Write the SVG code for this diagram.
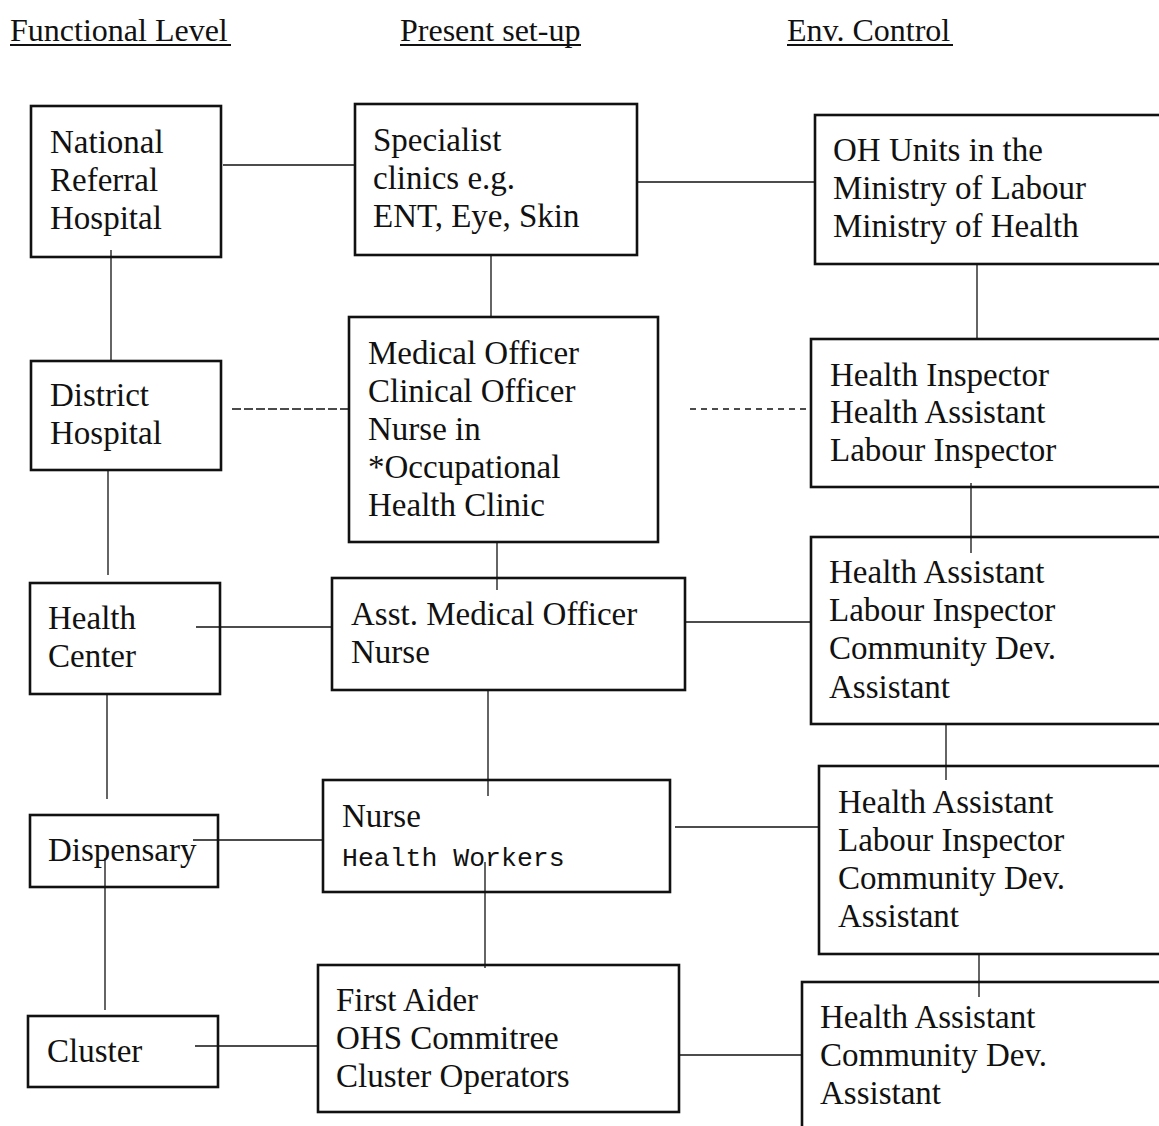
<svg xmlns="http://www.w3.org/2000/svg" width="1159" height="1126" viewBox="0 0 1159 1126">
<style>
.box{fill:none;stroke:#111;stroke-width:2.6}
.t{font-family:"Liberation Serif","Times New Roman",serif;font-size:33px;fill:#111}
.m{font-family:"Liberation Mono","Courier New",monospace;font-size:26.5px;fill:#111}
.h{font-family:"Liberation Serif","Times New Roman",serif;font-size:32px;fill:#111}
.c line{stroke:#111;stroke-width:1.3}
.c line.d1{stroke-dasharray:9 3}
.c line.d2{stroke-dasharray:6 5}
.u{stroke:#111;stroke-width:2}
</style>
<rect width="1159" height="1126" fill="#fff"/>
<g id="headers">
<text class="h" x="10" y="41">Functional Level</text>
<line class="u" x1="10" y1="45" x2="231" y2="45"/>
<text class="h" x="400" y="41">Present set-up</text>
<line class="u" x1="400" y1="45" x2="581" y2="45"/>
<text class="h" x="787" y="41">Env. Control</text>
<line class="u" x1="787" y1="45" x2="953" y2="45"/>
</g>
<g class="c" id="connectors">
<line x1="223" y1="165" x2="355" y2="165"/>
<line x1="637" y1="182" x2="815" y2="182"/>
<line x1="111" y1="250" x2="111" y2="361"/>
<line x1="491" y1="255" x2="491" y2="317"/>
<line x1="977" y1="264" x2="977" y2="339"/>
<line class="d1" x1="232" y1="409" x2="349" y2="409"/>
<line class="d2" x1="690" y1="409" x2="811" y2="409"/>
<line x1="108" y1="470" x2="108" y2="575"/>
<line x1="497" y1="542" x2="497" y2="590"/>
<line x1="971" y1="483" x2="971" y2="553"/>
<line x1="196" y1="627" x2="332" y2="627"/>
<line x1="685" y1="622" x2="811" y2="622"/>
<line x1="107" y1="694" x2="107" y2="799"/>
<line x1="488" y1="690" x2="488" y2="796"/>
<line x1="946" y1="724" x2="946" y2="780"/>
<line x1="193" y1="840" x2="323" y2="840"/>
<line x1="675" y1="827" x2="819" y2="827"/>
<line x1="105" y1="858" x2="105" y2="1010"/>
<line x1="485" y1="862" x2="485" y2="968"/>
<line x1="979" y1="954" x2="979" y2="997"/>
<line x1="195" y1="1046" x2="318" y2="1046"/>
<line x1="679" y1="1055" x2="802" y2="1055"/>
</g>
<g id="national-referral-hospital">
<rect class="box" x="31" y="106" width="190" height="151"/>
<text class="t" x="50" y="153">National</text>
<text class="t" x="50" y="191">Referral</text>
<text class="t" x="50" y="229">Hospital</text>
</g>
<g id="specialist-clinics">
<rect class="box" x="355" y="104" width="282" height="151"/>
<text class="t" x="373" y="151">Specialist</text>
<text class="t" x="373" y="189">clinics e.g.</text>
<text class="t" x="373" y="227">ENT, Eye, Skin</text>
</g>
<g id="oh-units">
<rect class="box" x="815" y="115" width="360" height="149"/>
<text class="t" x="833" y="161">OH Units in the</text>
<text class="t" x="833" y="199">Ministry of Labour</text>
<text class="t" x="833" y="237">Ministry of Health</text>
</g>
<g id="district-hospital">
<rect class="box" x="31" y="361" width="190" height="109"/>
<text class="t" x="50" y="406">District</text>
<text class="t" x="50" y="444">Hospital</text>
</g>
<g id="medical-officer">
<rect class="box" x="349" y="317" width="309" height="225"/>
<text class="t" x="368" y="364">Medical Officer</text>
<text class="t" x="368" y="402">Clinical Officer</text>
<text class="t" x="368" y="440">Nurse in</text>
<text class="t" x="368" y="478">*Occupational</text>
<text class="t" x="368" y="516">Health Clinic</text>
</g>
<g id="health-inspector">
<rect class="box" x="811" y="339" width="364" height="148"/>
<text class="t" x="830" y="386">Health Inspector</text>
<text class="t" x="830" y="423">Health Assistant</text>
<text class="t" x="830" y="461">Labour Inspector</text>
</g>
<g id="health-center">
<rect class="box" x="30" y="583" width="190" height="111"/>
<text class="t" x="48" y="629">Health</text>
<text class="t" x="48" y="667">Center</text>
</g>
<g id="asst-medical-officer">
<rect class="box" x="332" y="578" width="353" height="112"/>
<text class="t" x="351" y="625">Asst. Medical Officer</text>
<text class="t" x="351" y="663">Nurse</text>
</g>
<g id="env-health-center">
<rect class="box" x="811" y="537" width="364" height="187"/>
<text class="t" x="829" y="583">Health Assistant</text>
<text class="t" x="829" y="621">Labour Inspector</text>
<text class="t" x="829" y="659">Community Dev.</text>
<text class="t" x="829" y="698">Assistant</text>
</g>
<g id="dispensary">
<rect class="box" x="30" y="815" width="188" height="72"/>
<text class="t" x="48" y="861">Dispensary</text>
</g>
<g id="nurse-health-workers">
<rect class="box" x="323" y="780" width="347" height="112"/>
<text class="t" x="342" y="827">Nurse</text>
<text class="m" x="342" y="866">Health Workers</text>
</g>
<g id="env-dispensary">
<rect class="box" x="819" y="766" width="356" height="188"/>
<text class="t" x="838" y="813">Health Assistant</text>
<text class="t" x="838" y="851">Labour Inspector</text>
<text class="t" x="838" y="889">Community Dev.</text>
<text class="t" x="838" y="927">Assistant</text>
</g>
<g id="cluster">
<rect class="box" x="28" y="1016" width="190" height="71"/>
<text class="t" x="47" y="1062">Cluster</text>
</g>
<g id="first-aider">
<rect class="box" x="318" y="965" width="361" height="147"/>
<text class="t" x="336" y="1011">First Aider</text>
<text class="t" x="336" y="1049">OHS Commitree</text>
<text class="t" x="336" y="1087">Cluster Operators</text>
</g>
<g id="env-cluster">
<rect class="box" x="802" y="982" width="373" height="160"/>
<text class="t" x="820" y="1028">Health Assistant</text>
<text class="t" x="820" y="1066">Community Dev.</text>
<text class="t" x="820" y="1104">Assistant</text>
</g>
</svg>
